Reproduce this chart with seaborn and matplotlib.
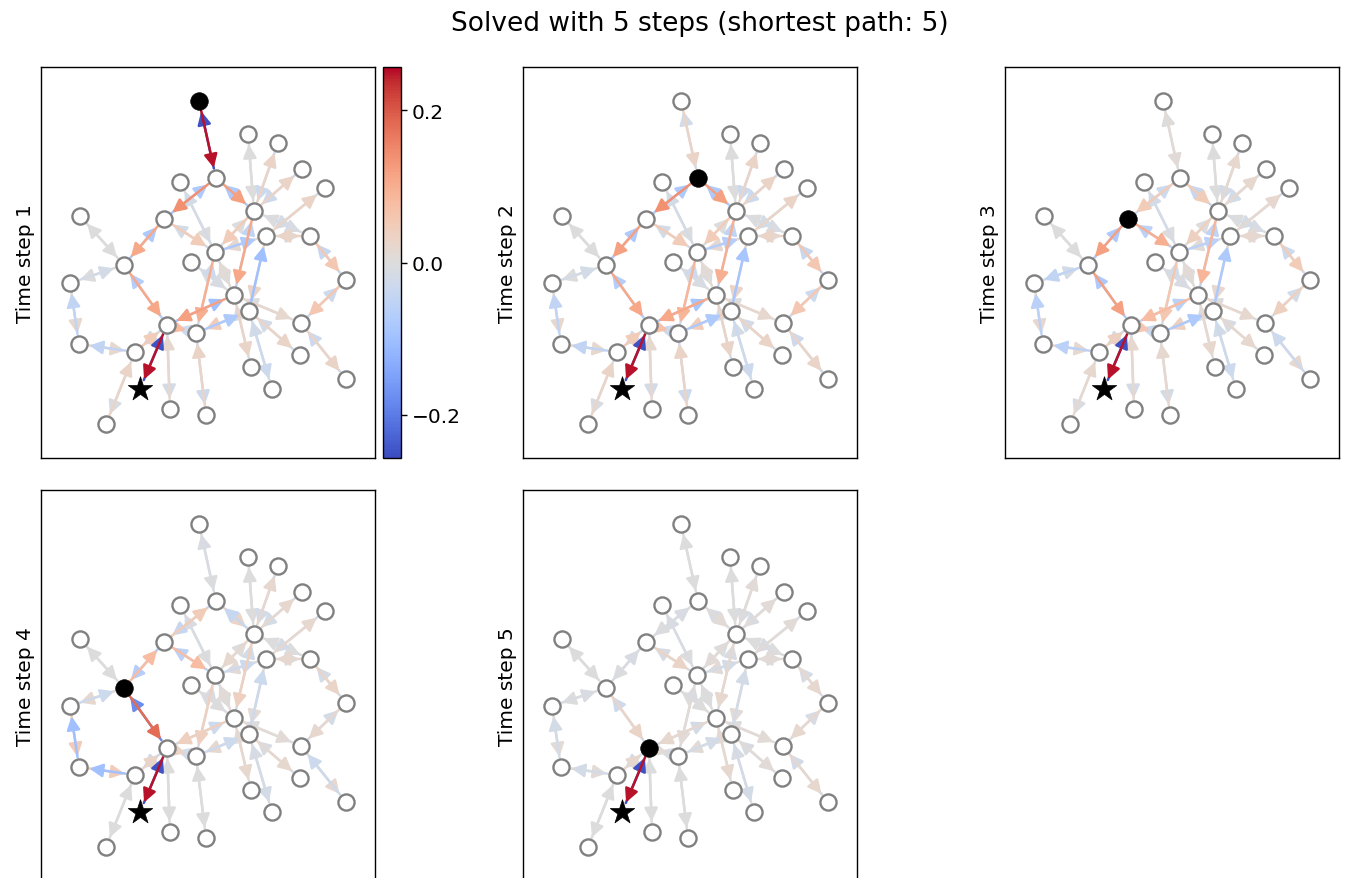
import numpy as np
import matplotlib
matplotlib.use("Agg")
import matplotlib.pyplot as plt
from matplotlib.patches import FancyArrowPatch
from matplotlib.colors import Normalize
import seaborn as sns

# ---------------- data ----------------
title = "Solved with 5 steps (shortest path: 5)"
step_labels = ["Time step 1", "Time step 2", "Time step 3", "Time step 4", "Time step 5"]

# node layout (layout units)
node_x = [158, 175, 139, 123, 213, 207, 237, 261, 284, 39, 83, 29, 174, 150, 225, 269,
          305, 193, 208, 126, 155, 260, 38, 94, 99, 259, 210, 231, 305, 129, 165, 65]
node_y = [357, 280, 276, 239, 247, 324, 315, 289, 270, 242, 193, 175, 206, 196, 222, 222,
          178, 163, 147, 133, 125, 135, 114, 106, 69, 103, 91, 69, 79, 49, 43, 34]
goal_node = 24
agent_node = [0, 1, 3, 10, 19]

edge_u = [0, 1, 1, 3, 3, 2, 10, 10, 10, 11, 22, 23, 23, 19, 19, 19, 17, 12, 20, 20,
          4, 4, 4, 4, 4, 14, 4, 14, 14, 12, 15, 16, 17, 21, 18, 18, 17, 13, 12]
edge_v = [1, 3, 4, 10, 12, 12, 9, 11, 19, 22, 23, 31, 19, 24, 29, 20, 19, 20, 30, 18,
          17, 12, 5, 6, 7, 8, 15, 15, 18, 14, 16, 21, 21, 28, 25, 27, 26, 17, 17]

# value of u->v and v->u for each time step
fwd_1 = [0.25, 0.14, 0.12, 0.11, 0.05, 0.00, 0.00, 0.00, 0.11, 0.02, 0.02, -0.01, 0.05, 0.25,
         -0.02, 0.08, 0.12, 0.10, -0.03, -0.08, 0.11, 0.05, 0.00, 0.03, 0.03, 0.03, -0.01,
         0.00, 0.03, -0.08, 0.06, 0.06, 0.02, 0.03, 0.03, -0.03, 0.03, -0.01, 0.00]
bwd_1 = [-0.25, -0.08, -0.08, -0.08, -0.02, -0.02, 0.00, -0.02, -0.07, -0.05, -0.05, 0.03, -0.02,
         -0.25, 0.02, -0.03, -0.10, -0.03, 0.03, 0.05, -0.05, 0.00, 0.00, -0.03, -0.03, -0.02,
         0.00, 0.03, -0.10, 0.02, -0.04, -0.03, 0.00, -0.03, -0.02, -0.02, -0.02, 0.00, 0.01]

fwd_2 = [0.03, 0.14, 0.12, 0.12, 0.05, 0.00, 0.00, 0.00, 0.11, 0.02, 0.02, -0.01, 0.05, 0.25,
         -0.02, 0.07, 0.11, 0.09, -0.03, -0.08, 0.10, 0.05, 0.00, 0.03, 0.03, 0.03, -0.01,
         0.00, 0.03, -0.07, 0.06, 0.06, 0.02, 0.03, 0.03, -0.03, 0.03, -0.01, 0.00]
bwd_2 = [-0.02, -0.08, -0.08, -0.08, -0.02, -0.02, 0.00, -0.02, -0.07, -0.05, -0.05, 0.03, -0.02,
         -0.25, 0.02, -0.03, -0.09, -0.03, 0.03, 0.05, -0.05, 0.00, 0.00, -0.03, -0.03, -0.02,
         0.00, 0.03, -0.09, 0.02, -0.04, -0.03, 0.00, -0.03, -0.02, -0.02, -0.02, 0.00, 0.01]

fwd_3 = [0.01, 0.05, 0.05, 0.12, 0.10, 0.00, 0.00, -0.05, 0.12, 0.02, 0.02, -0.01, 0.04, 0.25,
         -0.02, 0.06, 0.08, 0.06, -0.02, -0.08, 0.09, 0.04, 0.00, 0.02, 0.02, 0.02, -0.01,
         0.00, 0.02, -0.06, 0.05, 0.04, 0.02, 0.02, 0.02, -0.03, 0.02, -0.01, 0.00]
bwd_3 = [0.00, -0.03, -0.04, -0.08, -0.06, -0.02, 0.00, -0.02, -0.08, -0.06, -0.06, 0.02, -0.02,
         -0.25, 0.02, -0.03, -0.06, -0.02, 0.02, 0.04, -0.05, 0.00, 0.00, -0.02, -0.02, -0.02,
         0.00, 0.02, -0.08, 0.01, -0.03, -0.02, 0.00, -0.03, -0.01, -0.02, -0.01, 0.00, 0.01]

fwd_4 = [0.00, -0.04, 0.03, -0.07, 0.08, 0.00, 0.00, 0.02, 0.18, 0.05, 0.05, 0.00, 0.03, 0.25,
         0.00, 0.03, 0.04, 0.04, 0.00, -0.03, 0.04, 0.02, 0.00, 0.02, 0.02, 0.02, 0.00,
         0.00, 0.01, -0.03, 0.03, 0.02, 0.01, 0.02, 0.02, -0.02, 0.02, 0.00, 0.00]
bwd_4 = [-0.01, 0.05, -0.04, 0.08, -0.06, -0.01, 0.00, -0.03, -0.18, -0.10, -0.10, 0.00, -0.03,
         -0.25, 0.00, -0.02, -0.03, -0.01, 0.00, 0.02, -0.02, 0.00, 0.00, -0.02, -0.02, -0.02,
         0.00, 0.02, -0.03, 0.01, -0.02, -0.02, 0.00, -0.03, -0.01, -0.01, 0.00, 0.00, 0.01]

fwd_5 = [0.00, 0.00, 0.01, 0.00, 0.03, 0.00, 0.00, 0.00, 0.03, 0.01, 0.01, 0.00, 0.02, 0.25,
         0.00, 0.01, 0.02, 0.01, 0.00, -0.02, 0.02, 0.01, 0.00, 0.01, 0.01, 0.01, 0.00,
         0.00, 0.01, -0.02, 0.02, 0.02, 0.01, 0.02, 0.01, -0.02, 0.02, 0.00, 0.00]
bwd_5 = [0.00, -0.01, -0.01, -0.01, -0.01, -0.01, 0.00, -0.01, -0.03, -0.02, -0.02, 0.00, -0.02,
         -0.25, 0.00, -0.01, -0.02, -0.01, 0.00, 0.01, -0.01, 0.00, 0.00, -0.01, -0.01, -0.01,
         0.00, 0.01, -0.02, 0.01, -0.01, -0.01, 0.00, -0.02, -0.01, -0.01, 0.00, 0.00, 0.00]

fwd_vals = [fwd_1, fwd_2, fwd_3, fwd_4, fwd_5]
bwd_vals = [bwd_1, bwd_2, bwd_3, bwd_4, bwd_5]
cbar_ticks = [-0.2, 0.0, 0.2]
vlim = 0.257

# ---------------- style ----------------
sns.set_theme(style="white", rc={"axes.edgecolor": "black", "axes.linewidth": 1.0})
plt.rcParams["font.family"] = ["DejaVu Sans"]

W, H = 1348, 879
fig = plt.figure(figsize=(W / 100, H / 100), dpi=100)
cmap = sns.color_palette("coolwarm", as_cmap=True)
norm = Normalize(-vlim, vlim)


def px_axes(x0, y0, w, h):
    return fig.add_axes([x0 / W, 1 - (y0 + h) / H, w / W, h / H])


panel_pos = [(41, 68), (523, 68), (1005, 68), (41, 491), (523, 491)]
AW, AH = 334, 391

for k in range(5):
    ax = px_axes(panel_pos[k][0], panel_pos[k][1], AW, AH)
    ax.set_xlim(0, AW)
    ax.set_ylim(0, AH)
    ax.set_xticks([])
    ax.set_yticks([])
    ax.set_ylabel(step_labels[k], fontsize=14.5, color="black")

    arrows = []
    for i in range(len(edge_u)):
        u, v = edge_u[i], edge_v[i]
        arrows.append((fwd_vals[k][i], u, v))
        arrows.append((bwd_vals[k][i], v, u))
    arrows.sort(key=lambda a: (abs(a[0]), a[0]))
    for val, a, b in arrows:
        p = FancyArrowPatch((node_x[a], node_y[a]), (node_x[b], node_y[b]),
                            arrowstyle="-|>", mutation_scale=20, lw=1.8,
                            color=cmap(norm(val)), shrinkA=7, shrinkB=7.5, zorder=1)
        ax.add_patch(p)

    normal = [n for n in range(len(node_x)) if n != goal_node and n != agent_node[k]]
    sns.scatterplot(x=[node_x[n] for n in normal], y=[node_y[n] for n in normal], ax=ax,
                    s=135, color="white", edgecolor="#808080", linewidth=1.7, zorder=3,
                    legend=False)
    sns.scatterplot(x=[node_x[agent_node[k]]], y=[node_y[agent_node[k]]], ax=ax,
                    s=160, color="black", edgecolor="black", linewidth=0.5, zorder=4,
                    legend=False)
    sns.scatterplot(x=[node_x[goal_node]], y=[node_y[goal_node]], ax=ax, marker="*",
                    s=340, color="black", edgecolor="black", linewidth=0.5, zorder=4,
                    legend=False)
    ax.set_xlabel("")

    if k == 0:
        cax = px_axes(383, 68, 18, AH)
        sm = plt.cm.ScalarMappable(cmap=cmap, norm=norm)
        cb = fig.colorbar(sm, cax=cax, ticks=cbar_ticks)
        cb.outline.set_linewidth(1.0)
        cb.ax.tick_params(labelsize=14.5, length=4, width=1, colors="black")

fig.text(700 / W, 1 - 24 / H, title, ha="center", va="center", fontsize=19, color="black")
fig.savefig("out.png", dpi=100)
